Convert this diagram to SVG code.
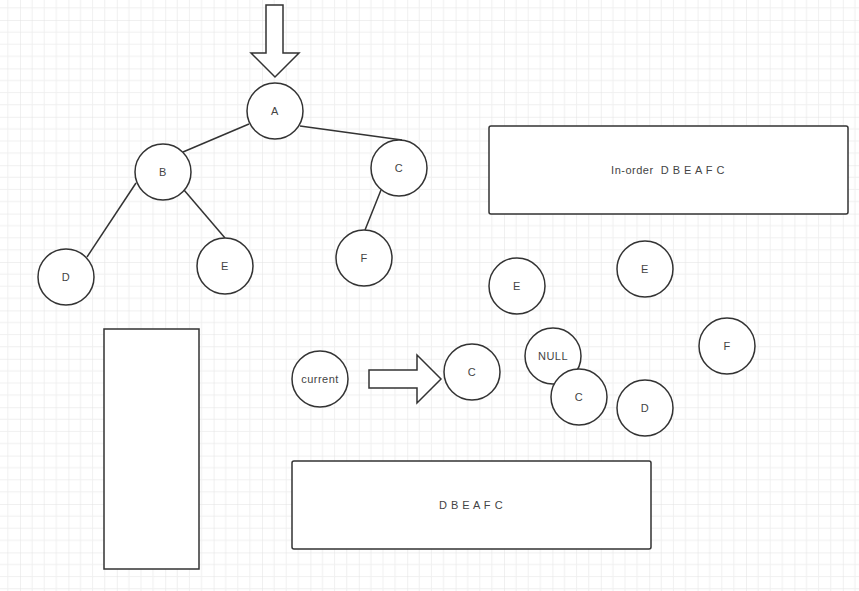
<svg xmlns="http://www.w3.org/2000/svg" width="859" height="591" viewBox="0 0 859 591">
<defs>
<pattern id="g" x="20" y="20" width="48.4" height="48.4" patternUnits="userSpaceOnUse">
<path d="M12.1 0V48.4M24.2 0V48.4M36.3 0V48.4M0 12.1H48.4M0 24.2H48.4M0 36.3H48.4" stroke="#f0f0f0" stroke-width="1" fill="none"/>
<path d="M0 0V48.4M0 0H48.4" stroke="#e2e2e2" stroke-width="1" fill="none"/>
</pattern>
<style>
.n{fill:#fff;stroke:#333;stroke-width:1.5}
.t{font-family:"Liberation Sans",Arial,sans-serif;font-size:11px;fill:#444;text-anchor:middle;dominant-baseline:central;letter-spacing:0.5px;white-space:pre}
.e{stroke:#333;stroke-width:1.5;fill:none}
</style>
</defs>
<rect width="859" height="591" fill="#fff"/>
<rect width="859" height="591" fill="url(#g)"/>
<g id="connectors">
<line class="e" x1="249" y1="124" x2="183" y2="152"/>
<line class="e" x1="300" y1="126" x2="402" y2="140"/>
<line class="e" x1="136" y1="183" x2="87" y2="257"/>
<line class="e" x1="184" y1="190" x2="225" y2="238"/>
<line class="e" x1="381" y1="190" x2="365" y2="230"/>
</g>
<g id="arrowDown"><path class="n" d="M266 5H283V53H299L275 77L251 53H266Z"/></g>
<g id="arrowRight"><path class="n" d="M369 370H417V355L441 379L417 403V388H369Z"/></g>
<g id="A"><circle class="n" cx="275" cy="111" r="28"/><text class="t" x="275" y="111">A</text></g>
<g id="B"><circle class="n" cx="163" cy="172" r="28"/><text class="t" x="163" y="172">B</text></g>
<g id="C"><circle class="n" cx="399" cy="168" r="28"/><text class="t" x="399" y="168">C</text></g>
<g id="D"><circle class="n" cx="66" cy="277" r="28"/><text class="t" x="66" y="277">D</text></g>
<g id="E"><circle class="n" cx="225" cy="266" r="28"/><text class="t" x="225" y="266">E</text></g>
<g id="F"><circle class="n" cx="364" cy="258" r="28"/><text class="t" x="364" y="258">F</text></g>
<g id="inorder"><rect class="n" x="489" y="126" width="359" height="88" rx="2"/><text class="t" x="668" y="170">In-order  D B E A F C</text></g>
<g id="E2"><circle class="n" cx="517" cy="286" r="28"/><text class="t" x="517" y="286">E</text></g>
<g id="E3"><circle class="n" cx="645" cy="269" r="28"/><text class="t" x="645" y="269">E</text></g>
<g id="F2"><circle class="n" cx="727" cy="346" r="28"/><text class="t" x="727" y="346">F</text></g>
<g id="NULL"><circle class="n" cx="553" cy="356" r="28"/><text class="t" x="553" y="356">NULL</text></g>
<g id="C3"><circle class="n" cx="579" cy="397" r="28"/><text class="t" x="579" y="397">C</text></g>
<g id="D2"><circle class="n" cx="645" cy="408" r="28"/><text class="t" x="645" y="408">D</text></g>
<g id="current"><circle class="n" cx="320" cy="379" r="28"/><text class="t" x="320" y="379">current</text></g>
<g id="C2"><circle class="n" cx="472" cy="372" r="28"/><text class="t" x="472" y="372">C</text></g>
<g id="stack"><rect class="n" x="104" y="329" width="95" height="240"/></g>
<g id="result"><rect class="n" x="292" y="461" width="359" height="88" rx="2"/><text class="t" x="471" y="505">D B E A F C</text></g>
</svg>
